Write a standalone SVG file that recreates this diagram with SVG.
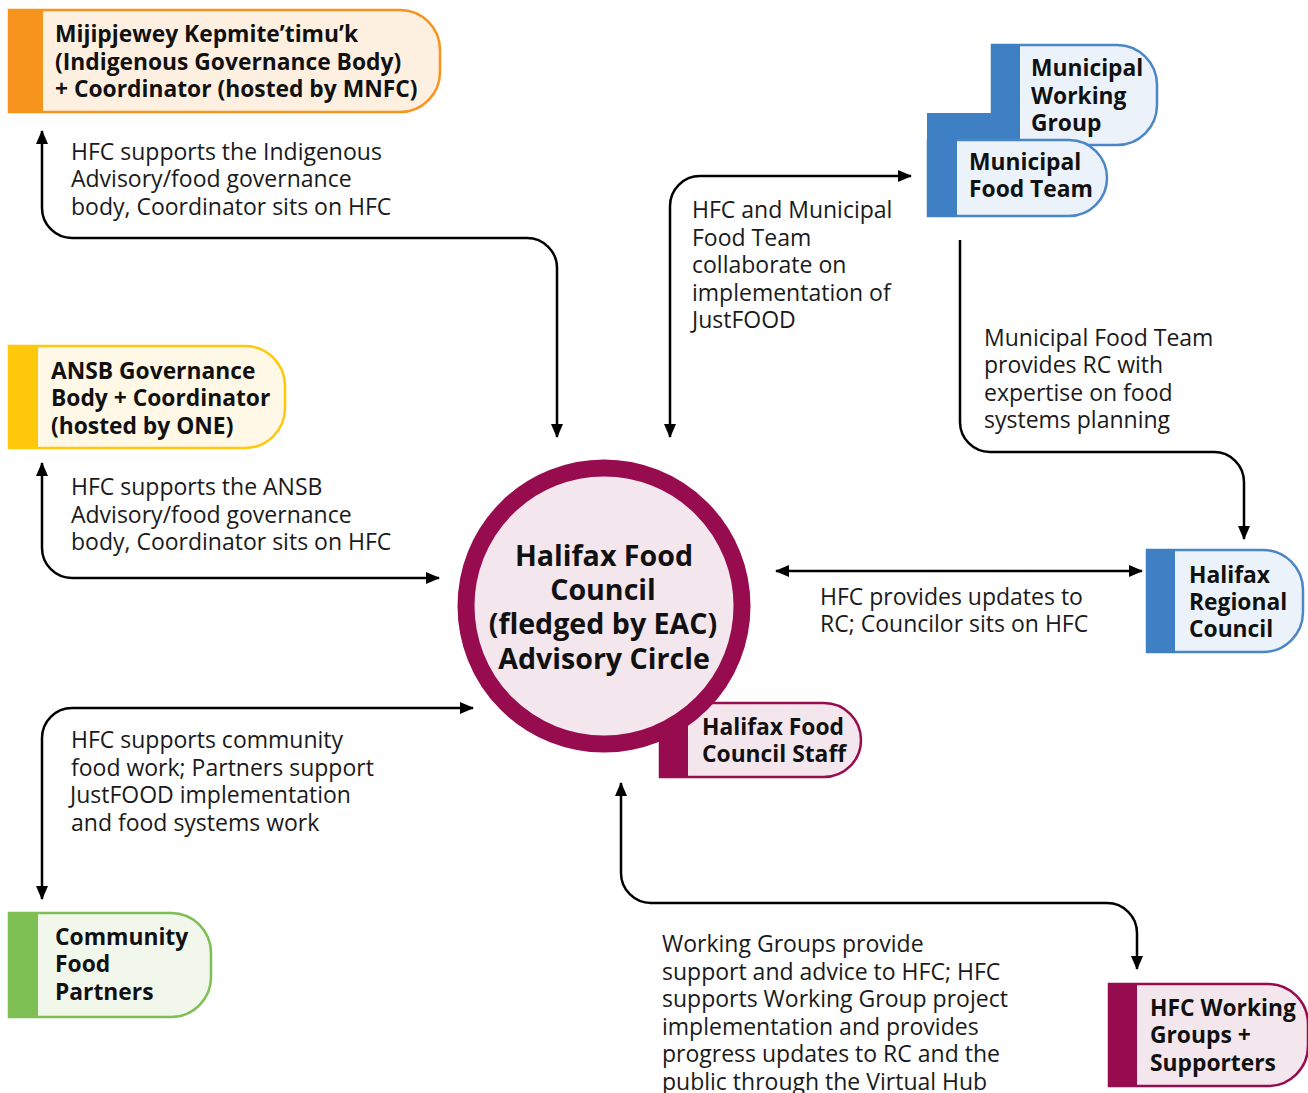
<svg xmlns="http://www.w3.org/2000/svg" width="1308" height="1093" viewBox="0 0 1308 1093">
<style>
.lbl{font-family:"Open Sans","Noto Sans","Liberation Sans",sans-serif;font-size:23px;fill:#1a1a1a}
.nt{font-family:"Open Sans","Noto Sans","Liberation Sans",sans-serif;font-size:22.8px;font-weight:bold;fill:#111}
.ct{font-family:"Open Sans","Noto Sans","Liberation Sans",sans-serif;font-size:28.6px;font-weight:bold;fill:#111}
.con{fill:none;stroke:#000;stroke-width:2.5}
.or{fill:#FEF0E1;stroke:#F7941D;stroke-width:2.5}.orb{fill:#F7941D}
.ye{fill:#FFF8E6;stroke:#FFC80B;stroke-width:2.5}.yeb{fill:#FFC80B}
.bl{fill:#EBF2F9;stroke:#4A86C8;stroke-width:2.5}.blb{fill:#3F80C4}
.gr{fill:#F2F7EC;stroke:#7DBF52;stroke-width:2.5}.grb{fill:#7DBF52}
.mg{fill:#F4E6ED;stroke:#970C4E;stroke-width:2.5}.mgb{fill:#970C4E}
</style>
<defs>
<marker id="ah" viewBox="0 0 14 12" refX="13" refY="6" markerWidth="14" markerHeight="12" markerUnits="userSpaceOnUse" orient="auto-start-reverse">
<path d="M0,0 L14,6 L0,12 Z" fill="#000"/>
</marker>
</defs>

<g id="connectors">
<path class="con" d="M42,131 V208 A30,30 0 0 0 72,238 H527 A30,30 0 0 1 557,268 V437" marker-start="url(#ah)" marker-end="url(#ah)"/>
<path class="con" d="M42,463 V548 A30,30 0 0 0 72,578 H439" marker-start="url(#ah)" marker-end="url(#ah)"/>
<path class="con" d="M670,437 V206 A30,30 0 0 1 700,176 H911" marker-start="url(#ah)" marker-end="url(#ah)"/>
<path class="con" d="M960,240 V422 A30,30 0 0 0 990,452 H1214 A30,30 0 0 1 1244,482 V539" marker-end="url(#ah)"/>
<path class="con" d="M776,571 H1142" marker-start="url(#ah)" marker-end="url(#ah)"/>
<path class="con" d="M42,899 V738 A30,30 0 0 1 72,708 H473" marker-start="url(#ah)" marker-end="url(#ah)"/>
<path class="con" d="M621,783 V873 A30,30 0 0 0 651,903 H1107 A30,30 0 0 1 1137,933 V969" marker-start="url(#ah)" marker-end="url(#ah)"/>
</g>

<g id="labels">
<text class="lbl" x="71" y="160">HFC supports the Indigenous</text>
<text class="lbl" x="71" y="187">Advisory/food governance</text>
<text class="lbl" x="71" y="215">body, Coordinator sits on HFC</text>
<text class="lbl" x="71" y="495">HFC supports the ANSB</text>
<text class="lbl" x="71" y="523">Advisory/food governance</text>
<text class="lbl" x="71" y="550">body, Coordinator sits on HFC</text>
<text class="lbl" x="692" y="218">HFC and Municipal</text>
<text class="lbl" x="692" y="246">Food Team</text>
<text class="lbl" x="692" y="273">collaborate on</text>
<text class="lbl" x="692" y="301">implementation of</text>
<text class="lbl" x="692" y="328">JustFOOD</text>
<text class="lbl" x="984" y="346">Municipal Food Team</text>
<text class="lbl" x="984" y="373">provides RC with</text>
<text class="lbl" x="984" y="401">expertise on food</text>
<text class="lbl" x="984" y="428">systems planning</text>
<text class="lbl" x="820" y="605">HFC provides updates to</text>
<text class="lbl" x="820" y="632">RC; Councilor sits on HFC</text>
<text class="lbl" x="71" y="748">HFC supports community</text>
<text class="lbl" x="71" y="776">food work; Partners support</text>
<text class="lbl" x="70" y="803">JustFOOD implementation</text>
<text class="lbl" x="71" y="831">and food systems work</text>
<text class="lbl" x="662" y="952">Working Groups provide</text>
<text class="lbl" x="662" y="980">support and advice to HFC; HFC</text>
<text class="lbl" x="662" y="1007">supports Working Group project</text>
<text class="lbl" x="662" y="1035">implementation and provides</text>
<text class="lbl" x="662" y="1062">progress updates to RC and the</text>
<text class="lbl" x="662" y="1090">public through the Virtual Hub</text>
</g>

<g id="node-mijipjewey">
<path class="or" d="M9,10 H400 A40,40 0 0 1 440,50 V72 A40,40 0 0 1 400,112 H9 Z"/>
<rect class="orb" x="8" y="9" width="35" height="104"/>
<text class="nt" x="55" y="42">Mijipjewey Kepmite’timu’k</text>
<text class="nt" x="55" y="70">(Indigenous Governance Body)</text>
<text class="nt" x="55" y="97">+ Coordinator (hosted by MNFC)</text>
</g>

<g id="node-ansb">
<path class="ye" d="M9,346 H245 A40,40 0 0 1 285,386 V408 A40,40 0 0 1 245,448 H9 Z"/>
<rect class="yeb" x="8" y="345" width="30" height="104"/>
<text class="nt" x="51" y="379">ANSB Governance</text>
<text class="nt" x="51" y="406">Body + Coordinator</text>
<text class="nt" x="51" y="434">(hosted by ONE)</text>
</g>

<g id="node-mwg">
<path class="bl" d="M992,45 H1117 A40,40 0 0 1 1157,85 V105 A40,40 0 0 1 1117,145 H992 Z"/>
<rect class="blb" x="991" y="44" width="29" height="102"/>
<text class="nt" x="1031" y="76">Municipal</text>
<text class="nt" x="1031" y="104">Working</text>
<text class="nt" x="1031" y="131">Group</text>
</g>

<g id="node-mft">
<rect class="blb" x="927" y="113" width="93" height="28"/>
<path class="bl" d="M928,140 H1069 A38,38 0 0 1 1107,178 A38,38 0 0 1 1069,216 H928 Z"/>
<rect class="blb" x="927" y="113" width="30" height="104"/>
<text class="nt" x="969" y="170">Municipal</text>
<text class="nt" x="969" y="197">Food Team</text>
</g>

<g id="node-hrc">
<path class="bl" d="M1147,550 H1263 A40,40 0 0 1 1303,590 V612 A40,40 0 0 1 1263,652 H1147 Z"/>
<rect class="blb" x="1146" y="549" width="29" height="104"/>
<text class="nt" x="1189" y="583">Halifax</text>
<text class="nt" x="1189" y="610">Regional</text>
<text class="nt" x="1189" y="637">Council</text>
</g>

<g id="node-staff">
<path class="mg" d="M660,703 H824 A37,37 0 0 1 861,740 A37,37 0 0 1 824,777 H660 Z"/>
<rect class="mgb" x="659" y="690" width="29" height="88"/>
<text class="nt" x="702" y="735">Halifax Food</text>
<text class="nt" x="702" y="762">Council Staff</text>
</g>

<g id="node-hfc">
<circle cx="604" cy="606" r="138" fill="#F4E6ED" stroke="#970C4E" stroke-width="17"/>
<text class="ct" x="604" y="566" text-anchor="middle">Halifax Food</text>
<text class="ct" x="603" y="600" text-anchor="middle">Council</text>
<text class="ct" x="603" y="634" text-anchor="middle">(fledged by EAC)</text>
<text class="ct" x="604" y="669" text-anchor="middle">Advisory Circle</text>
</g>

<g id="node-community">
<path class="gr" d="M9,913 H171 A40,40 0 0 1 211,953 V977 A40,40 0 0 1 171,1017 H9 Z"/>
<rect class="grb" x="8" y="912" width="30" height="106"/>
<text class="nt" x="55" y="945">Community</text>
<text class="nt" x="55" y="972">Food</text>
<text class="nt" x="55" y="1000">Partners</text>
</g>

<g id="node-working-groups">
<path class="mg" d="M1109,984 H1268 A40,40 0 0 1 1308,1024 V1046 A40,40 0 0 1 1268,1086 H1109 Z"/>
<rect class="mgb" x="1108" y="983" width="29" height="104"/>
<text class="nt" x="1150" y="1016">HFC Working</text>
<text class="nt" x="1150" y="1043">Groups +</text>
<text class="nt" x="1150" y="1071">Supporters</text>
</g>
</svg>
